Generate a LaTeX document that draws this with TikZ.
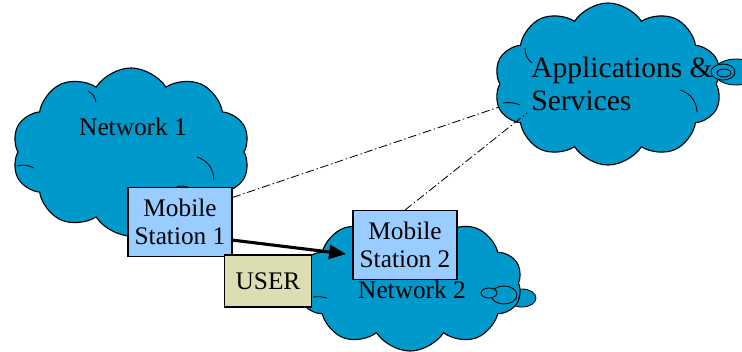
\documentclass[tikz,border=0pt]{standalone}
\usepackage{fontspec}
\setmainfont{Liberation Serif}
\definecolor{CloudBlue}{RGB}{0,153,204}
\definecolor{StationBlue}{RGB}{153,204,255}
\definecolor{UserKhaki}{RGB}{221,221,180}
\usetikzlibrary{arrows.meta, shapes.symbols, positioning}

\begin{document}
\begin{tikzpicture}[x=0.025cm, y=-0.025cm,
      netcloud/.style={cloud, cloud puffs=10, cloud puff arc=115, draw=black,
                       fill=CloudBlue, line width=0.8pt, inner sep=0pt},
      station/.style={draw=black, fill=StationBlue, line width=0.8pt,
                      minimum width=2.6cm, minimum height=1.72cm,
                      align=center, inner sep=2pt,
                      font=\fontsize{18}{20}\selectfont},
      userbox/.style={draw=black, fill=UserKhaki, line width=0.8pt,
                      minimum width=2.18cm, minimum height=1.3cm,
                      font=\fontsize{18}{20}\selectfont},
      tailpuff/.style={draw=black, fill=CloudBlue, line width=0.6pt},
      curl/.style={draw=black, line width=0.6pt},
      link/.style={line width=0.6pt, dash pattern=on 6pt off 2pt on 1pt off 2pt}
    ]
      \useasboundingbox (0,0) rectangle (742,351);

      % network 1
      \node[netcloud, minimum width=5.95cm, minimum height=4.2cm] (net1) at (131,152) {};
      \draw[curl] (17,166) to[bend left=20] (34,168);
      \draw[curl] (197,157) to[bend left=35] (214,180);
      \draw[curl] (88,91) to[bend left=25] (96,102);
      \draw[tailpuff] (182,191) ellipse (9 and 5);
      \node[font=\fontsize{18}{20}\selectfont] (net1txt) at (133,127) {Network 1};

      % applications
      \draw[tailpuff] (736,72) ellipse (22 and 13);
      \node[netcloud, minimum width=5.7cm, minimum height=4.05cm] (apps) at (608,84) {};
      \draw[curl] (503,103) to[bend left=15] (520,105);
      \draw[curl] (680,90) to[bend left=35] (697,112);
      \draw[curl] (525,48) to[bend right=25] (532,63);
      \draw[tailpuff] (723,72) ellipse (12 and 8);
      \draw[tailpuff] (724,73) ellipse (7 and 4);
      \node[font=\fontsize{21}{24}\selectfont, align=left] (appstxt) at (622,84)
        {Applications \&\\Services};

      % network 2
      \draw[tailpuff] (522,298) ellipse (14 and 9);
      \node[netcloud, minimum width=5.6cm, minimum height=3.4cm] (net2) at (410,283) {};
      \draw[curl] (313,297) to[bend left=10] (327,298);
      \draw[tailpuff] (504,295) ellipse (13 and 9);
      \draw[tailpuff] (489,293) ellipse (8 and 5);
      \node[font=\fontsize{18}{20}\selectfont] (net2txt) at (412,290) {Network 2};

      % stations
      \node[station] (ms1) at (180,222) {Mobile\\Station 1};
      \node[station] (ms2) at (405,245) {Mobile\\Station 2};
      \node[userbox] (user) at (268,281) {USER};

      % links
      \coordinate (appsin) at (527,113);
      \coordinate (tip) at (346,254);
      \draw[link] (ms1.25) -- (apps.192);
      \draw[link] (ms2.north) -- (appsin);
      \draw[line width=2.2pt, -{Triangle[length=12pt, width=10pt]}] (ms1.-19) -- (tip);
    \end{tikzpicture}
\end{document}
